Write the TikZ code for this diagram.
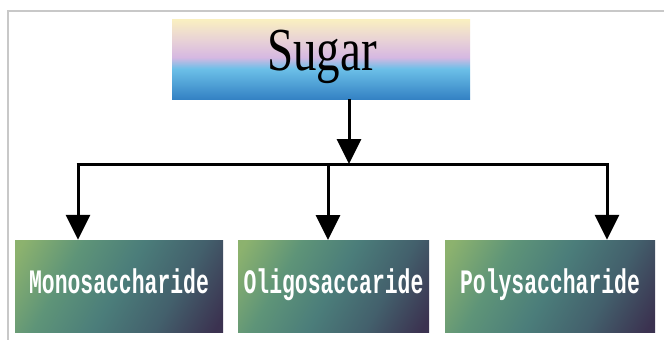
\documentclass[tikz,border=0pt]{standalone}
\usepackage{fontspec}
\setmainfont{Liberation Serif}
\newfontfamily\boxfont{Liberation Mono}
\usetikzlibrary{arrows.meta}
\definecolor{syellow}{HTML}{FAF0C0}
\definecolor{spink}{HTML}{E8D2D6}
\definecolor{slav}{HTML}{D6B8E2}
\definecolor{slblue}{HTML}{6CC0E8}
\definecolor{sblue}{HTML}{3482C4}
\definecolor{gtop}{HTML}{8CB26E}
\definecolor{gup}{HTML}{5E9478}
\definecolor{gmid}{HTML}{4B7D7A}
\definecolor{glow}{HTML}{43606C}
\definecolor{gbot}{HTML}{3B3250}
\definecolor{framegray}{HTML}{C8C8C8}
\pgfdeclareverticalshading{sugarshade}{100bp}{color(0bp)=(sblue); color(25bp)=(sblue); color(44bp)=(slblue); color(51bp)=(slav); color(62bp)=(spink); color(75bp)=(syellow); color(100bp)=(syellow)}
\pgfdeclareverticalshading{kindshade}{100bp}{color(0bp)=(gbot); color(18bp)=(gbot); color(34bp)=(glow); color(50bp)=(gmid); color(66bp)=(gup); color(82bp)=(gtop); color(100bp)=(gtop)}
\tikzset{
  sugarbox/.style={shading=sugarshade, minimum width=298pt, minimum height=80pt, inner sep=0pt},
  kindbox/.style={shading=kindshade, shading angle=60, minimum height=92pt, inner sep=0pt, text=white},
  conn/.style={line width=3pt, black},
  arr/.style={conn, -{Triangle[width=24pt,length=25pt]}},
}
\newcommand{\kindtext}[1]{\raisebox{9pt}{\scalebox{1}[1.6]{\boxfont\bfseries\fontsize{21.4pt}{24pt}\selectfont #1}}}
\begin{document}
\begin{tikzpicture}[x=1pt,y=-1pt]
\useasboundingbox (0,0) rectangle (664,340);
\fill[white] (0,0) rectangle (664,340);
\draw[framegray, line width=1.2pt] (8,340) -- (8,11) -- (664,11);
\node[sugarbox] (sugar) at (321,59) {};
\node (sugartext) at (322,57) {\scalebox{1}[1.3]{\fontsize{47pt}{50pt}\selectfont Sugar}};
\node[kindbox, minimum width=208pt] (mono) at (119,286) {\kindtext{Monosaccharide}};
\node[kindbox, minimum width=191pt] (oligo) at (333.5,286) {\kindtext{Oligosaccaride}};
\node[kindbox, minimum width=210pt] (poly) at (550,286) {\kindtext{Polysaccharide}};
\coordinate (hub) at (349,164);
\coordinate (hl) at (78,164);
\coordinate (hr) at (607,164);
\draw[arr] (sugar.south -| hub) -- (hub);
\draw[conn] ([xshift=-1.5pt]hl) -- ([xshift=1.5pt]hr);
\draw[arr] ([yshift=-1.5pt]hl) -- (hl |- mono.north);
\draw[arr] (328,164) -- (328,240);
\draw[arr] ([yshift=-1.5pt]hr) -- (hr |- poly.north);
\end{tikzpicture}
\end{document}
